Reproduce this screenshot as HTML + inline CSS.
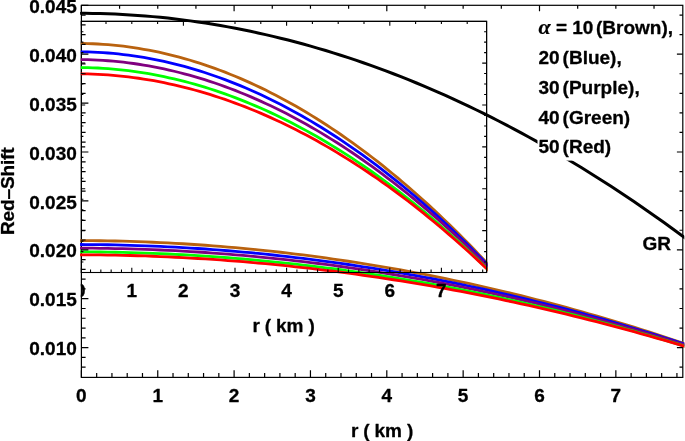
<!DOCTYPE html>
<html><head><meta charset="utf-8"><title>Red-Shift</title>
<style>html,body{margin:0;padding:0;background:#fff}svg{display:block}</style></head>
<body>
<svg width="685" height="441" viewBox="0 0 685 441" font-family="'Liberation Sans',Arial,Helvetica,sans-serif" font-weight="bold" font-size="19px" fill="#000"><style>text{stroke:#000;stroke-width:0.3px;stroke-linejoin:round}</style>
<defs><clipPath id="cm"><rect x="80.10" y="5.3" width="604.20" height="372.10"/></clipPath><clipPath id="cm2"><rect x="80.80" y="5.3" width="602.60" height="372.10"/></clipPath><clipPath id="ci"><rect x="79.60" y="21.4" width="408.00" height="251.90"/></clipPath></defs>
<rect width="685" height="441" fill="#fff"/>
<rect x="81.4" y="5.3" width="601.40" height="372.10" fill="none" stroke="#000" stroke-width="1.2"/>
<g clip-path="url(#cm2)">
<rect x="80.6" y="21.4" width="406.00" height="251.10" fill="none" stroke="#000" stroke-width="1.1"/>
<g clip-path="url(#ci)" fill="none" stroke-width="2.8" stroke-linejoin="round">
<path d="M77.62,43.42 L82.70,43.44 L87.78,43.55 L92.86,43.73 L97.94,43.98 L103.03,44.29 L108.11,44.67 L113.19,45.12 L118.27,45.64 L123.35,46.23 L128.43,46.88 L133.51,47.61 L138.59,48.40 L143.67,49.26 L148.75,50.18 L153.84,51.18 L158.92,52.24 L164.00,53.37 L169.08,54.57 L174.16,55.83 L179.24,57.16 L184.32,58.56 L189.40,60.03 L194.48,61.56 L199.56,63.16 L204.65,64.83 L209.73,66.57 L214.81,68.37 L219.89,70.24 L224.97,72.18 L230.05,74.18 L235.13,76.26 L240.21,78.39 L245.29,80.60 L250.37,82.87 L255.46,85.21 L260.54,87.62 L265.62,90.09 L270.70,92.63 L275.78,95.24 L280.86,97.92 L285.94,100.66 L291.02,103.46 L296.10,106.34 L301.18,109.28 L306.27,112.29 L311.35,115.37 L316.43,118.51 L321.51,121.72 L326.59,125.00 L331.67,128.34 L336.75,131.75 L341.83,135.23 L346.91,138.78 L351.99,142.39 L357.08,146.07 L362.16,149.81 L367.24,153.63 L372.32,157.51 L377.40,161.46 L382.48,165.47 L387.56,169.56 L392.64,173.71 L397.72,177.92 L402.80,182.21 L407.89,186.56 L412.97,190.98 L418.05,195.47 L423.13,200.03 L428.21,204.65 L433.29,209.34 L438.37,214.10 L443.45,218.93 L448.53,223.83 L453.61,228.79 L458.70,233.82 L463.78,238.92 L468.86,244.09 L473.94,249.33 L479.02,254.63 L484.10,260.01 L489.18,265.47" stroke="#b9620f"/>
<path d="M77.62,51.80 L82.70,51.82 L87.78,51.93 L92.86,52.10 L97.94,52.34 L103.03,52.64 L108.11,53.02 L113.19,53.45 L118.27,53.96 L123.35,54.52 L128.43,55.16 L133.51,55.86 L138.59,56.63 L143.67,57.46 L148.75,58.35 L153.84,59.32 L158.92,60.34 L164.00,61.44 L169.08,62.60 L174.16,63.82 L179.24,65.11 L184.32,66.46 L189.40,67.88 L194.48,69.37 L199.56,70.92 L204.65,72.53 L209.73,74.21 L214.81,75.96 L219.89,77.77 L224.97,79.64 L230.05,81.58 L235.13,83.58 L240.21,85.65 L245.29,87.78 L250.37,89.98 L255.46,92.25 L260.54,94.57 L265.62,96.97 L270.70,99.42 L275.78,101.94 L280.86,104.53 L285.94,107.18 L291.02,109.90 L296.10,112.68 L301.18,115.52 L306.27,118.43 L311.35,121.41 L316.43,124.45 L321.51,127.55 L326.59,130.72 L331.67,133.95 L336.75,137.25 L341.83,140.61 L346.91,144.04 L351.99,147.53 L357.08,151.09 L362.16,154.71 L367.24,158.40 L372.32,162.15 L377.40,165.97 L382.48,169.85 L387.56,173.80 L392.64,177.81 L397.72,181.89 L402.80,186.03 L407.89,190.24 L412.97,194.52 L418.05,198.86 L423.13,203.26 L428.21,207.73 L433.29,212.27 L438.37,216.87 L443.45,221.54 L448.53,226.27 L453.61,231.07 L458.70,235.93 L463.78,240.86 L468.86,245.86 L473.94,250.92 L479.02,256.05 L484.10,261.25 L489.18,266.53" stroke="#0000ff"/>
<path d="M77.62,59.55 L82.70,59.57 L87.78,59.67 L92.86,59.84 L97.94,60.08 L103.03,60.37 L108.11,60.73 L113.19,61.16 L118.27,61.65 L123.35,62.20 L128.43,62.82 L133.51,63.50 L138.59,64.25 L143.67,65.05 L148.75,65.93 L153.84,66.86 L158.92,67.86 L164.00,68.92 L169.08,70.05 L174.16,71.24 L179.24,72.49 L184.32,73.81 L189.40,75.19 L194.48,76.63 L199.56,78.13 L204.65,79.70 L209.73,81.33 L214.81,83.03 L219.89,84.78 L224.97,86.60 L230.05,88.49 L235.13,90.43 L240.21,92.44 L245.29,94.51 L250.37,96.65 L255.46,98.85 L260.54,101.11 L265.62,103.43 L270.70,105.81 L275.78,108.26 L280.86,110.77 L285.94,113.35 L291.02,115.98 L296.10,118.68 L301.18,121.44 L306.27,124.27 L311.35,127.16 L316.43,130.11 L321.51,133.12 L326.59,136.20 L331.67,139.33 L336.75,142.54 L341.83,145.80 L346.91,149.13 L351.99,152.52 L357.08,155.97 L362.16,159.49 L367.24,163.07 L372.32,166.71 L377.40,170.41 L382.48,174.18 L387.56,178.02 L392.64,181.91 L397.72,185.87 L402.80,189.89 L407.89,193.98 L412.97,198.12 L418.05,202.34 L423.13,206.61 L428.21,210.95 L433.29,215.35 L438.37,219.82 L443.45,224.35 L448.53,228.94 L453.61,233.60 L458.70,238.32 L463.78,243.11 L468.86,247.96 L473.94,252.87 L479.02,257.85 L484.10,262.89 L489.18,268.02" stroke="#800080"/>
<path d="M77.62,67.51 L82.70,67.53 L87.78,67.63 L92.86,67.80 L97.94,68.02 L103.03,68.31 L108.11,68.67 L113.19,69.08 L118.27,69.56 L123.35,70.10 L128.43,70.71 L133.51,71.37 L138.59,72.10 L143.67,72.89 L148.75,73.74 L153.84,74.65 L158.92,75.63 L164.00,76.66 L169.08,77.76 L174.16,78.92 L179.24,80.14 L184.32,81.43 L189.40,82.77 L194.48,84.18 L199.56,85.65 L204.65,87.18 L209.73,88.77 L214.81,90.42 L219.89,92.14 L224.97,93.91 L230.05,95.75 L235.13,97.65 L240.21,99.60 L245.29,101.62 L250.37,103.71 L255.46,105.85 L260.54,108.05 L265.62,110.32 L270.70,112.64 L275.78,115.03 L280.86,117.48 L285.94,119.99 L291.02,122.56 L296.10,125.19 L301.18,127.89 L306.27,130.64 L311.35,133.45 L316.43,136.33 L321.51,139.27 L326.59,142.27 L331.67,145.33 L336.75,148.45 L341.83,151.63 L346.91,154.88 L351.99,158.18 L357.08,161.55 L362.16,164.98 L367.24,168.47 L372.32,172.02 L377.40,175.63 L382.48,179.30 L387.56,183.04 L392.64,186.84 L397.72,190.69 L402.80,194.62 L407.89,198.60 L412.97,202.64 L418.05,206.75 L423.13,210.92 L428.21,215.15 L433.29,219.44 L438.37,223.79 L443.45,228.21 L448.53,232.69 L453.61,237.23 L458.70,241.83 L463.78,246.50 L468.86,251.22 L473.94,256.02 L479.02,260.87 L484.10,265.78 L489.18,270.78" stroke="#00ff00"/>
<path d="M77.62,73.79 L82.70,73.81 L87.78,73.91 L92.86,74.07 L97.94,74.29 L103.03,74.58 L108.11,74.92 L113.19,75.33 L118.27,75.79 L123.35,76.32 L128.43,76.90 L133.51,77.55 L138.59,78.26 L143.67,79.02 L148.75,79.85 L153.84,80.74 L158.92,81.69 L164.00,82.69 L169.08,83.76 L174.16,84.89 L179.24,86.07 L184.32,87.32 L189.40,88.63 L194.48,89.99 L199.56,91.42 L204.65,92.90 L209.73,94.45 L214.81,96.05 L219.89,97.71 L224.97,99.44 L230.05,101.22 L235.13,103.06 L240.21,104.96 L245.29,106.92 L250.37,108.94 L255.46,111.02 L260.54,113.16 L265.62,115.36 L270.70,117.62 L275.78,119.93 L280.86,122.31 L285.94,124.74 L291.02,127.24 L296.10,129.79 L301.18,132.40 L306.27,135.08 L311.35,137.81 L316.43,140.60 L321.51,143.45 L326.59,146.36 L331.67,149.33 L336.75,152.35 L341.83,155.44 L346.91,158.59 L351.99,161.79 L357.08,165.06 L362.16,168.39 L367.24,171.77 L372.32,175.22 L377.40,178.72 L382.48,182.28 L387.56,185.91 L392.64,189.59 L397.72,193.33 L402.80,197.14 L407.89,201.00 L412.97,204.92 L418.05,208.91 L423.13,212.95 L428.21,217.05 L433.29,221.22 L438.37,225.44 L443.45,229.72 L448.53,234.07 L453.61,238.47 L458.70,242.94 L463.78,247.46 L468.86,252.05 L473.94,256.70 L479.02,261.40 L484.10,266.17 L489.18,271.02" stroke="#ff0000"/>
</g>
</g>
<g clip-path="url(#cm)" fill="none" stroke-width="2.8" stroke-linejoin="round">
<path d="M77.58,240.61 L85.10,240.62 L92.62,240.67 L100.14,240.75 L107.65,240.87 L115.17,241.02 L122.69,241.19 L130.21,241.40 L137.73,241.65 L145.25,241.92 L152.76,242.23 L160.28,242.56 L167.80,242.93 L175.32,243.34 L182.84,243.77 L190.35,244.23 L197.87,244.73 L205.39,245.26 L212.91,245.81 L220.43,246.40 L227.94,247.03 L235.46,247.68 L242.98,248.37 L250.50,249.08 L258.02,249.83 L265.54,250.61 L273.05,251.42 L280.57,252.26 L288.09,253.14 L295.61,254.04 L303.13,254.98 L310.64,255.94 L318.16,256.94 L325.68,257.97 L333.20,259.03 L340.72,260.13 L348.23,261.25 L355.75,262.41 L363.27,263.59 L370.79,264.81 L378.31,266.06 L385.83,267.34 L393.34,268.65 L400.86,269.99 L408.38,271.37 L415.90,272.77 L423.42,274.21 L430.93,275.68 L438.45,277.18 L445.97,278.71 L453.49,280.27 L461.01,281.86 L468.52,283.49 L476.04,285.14 L483.56,286.83 L491.08,288.55 L498.60,290.30 L506.12,292.08 L513.63,293.89 L521.15,295.73 L528.67,297.61 L536.19,299.52 L543.71,301.45 L551.22,303.42 L558.74,305.43 L566.26,307.46 L573.78,309.52 L581.30,311.62 L588.81,313.75 L596.33,315.91 L603.85,318.10 L611.37,320.32 L618.89,322.57 L626.41,324.86 L633.92,327.18 L641.44,329.53 L648.96,331.91 L656.48,334.32 L664.00,336.77 L671.51,339.25 L679.03,341.76 L686.55,344.31" stroke="#b9620f"/>
<path d="M77.58,244.52 L85.10,244.53 L92.62,244.58 L100.14,244.66 L107.65,244.77 L115.17,244.92 L122.69,245.09 L130.21,245.29 L137.73,245.53 L145.25,245.80 L152.76,246.09 L160.28,246.42 L167.80,246.78 L175.32,247.16 L182.84,247.58 L190.35,248.03 L197.87,248.51 L205.39,249.02 L212.91,249.56 L220.43,250.14 L227.94,250.74 L235.46,251.37 L242.98,252.03 L250.50,252.73 L258.02,253.45 L265.54,254.20 L273.05,254.99 L280.57,255.80 L288.09,256.65 L295.61,257.52 L303.13,258.43 L310.64,259.37 L318.16,260.33 L325.68,261.33 L333.20,262.35 L340.72,263.41 L348.23,264.50 L355.75,265.62 L363.27,266.76 L370.79,267.94 L378.31,269.15 L385.83,270.39 L393.34,271.65 L400.86,272.95 L408.38,274.28 L415.90,275.64 L423.42,277.03 L430.93,278.45 L438.45,279.90 L445.97,281.38 L453.49,282.89 L461.01,284.43 L468.52,286.00 L476.04,287.60 L483.56,289.23 L491.08,290.89 L498.60,292.58 L506.12,294.31 L513.63,296.06 L521.15,297.84 L528.67,299.65 L536.19,301.50 L543.71,303.37 L551.22,305.28 L558.74,307.21 L566.26,309.18 L573.78,311.17 L581.30,313.20 L588.81,315.26 L596.33,317.34 L603.85,319.46 L611.37,321.61 L618.89,323.79 L626.41,326.00 L633.92,328.24 L641.44,330.51 L648.96,332.82 L656.48,335.15 L664.00,337.51 L671.51,339.91 L679.03,342.34 L686.55,344.80" stroke="#0000ff"/>
<path d="M77.58,248.14 L85.10,248.15 L92.62,248.20 L100.14,248.28 L107.65,248.39 L115.17,248.53 L122.69,248.70 L130.21,248.89 L137.73,249.12 L145.25,249.38 L152.76,249.67 L160.28,249.99 L167.80,250.34 L175.32,250.71 L182.84,251.12 L190.35,251.56 L197.87,252.02 L205.39,252.52 L212.91,253.05 L220.43,253.60 L227.94,254.19 L235.46,254.80 L242.98,255.44 L250.50,256.12 L258.02,256.82 L265.54,257.55 L273.05,258.31 L280.57,259.11 L288.09,259.93 L295.61,260.78 L303.13,261.66 L310.64,262.56 L318.16,263.50 L325.68,264.47 L333.20,265.47 L340.72,266.49 L348.23,267.55 L355.75,268.63 L363.27,269.75 L370.79,270.89 L378.31,272.06 L385.83,273.27 L393.34,274.50 L400.86,275.76 L408.38,277.05 L415.90,278.37 L423.42,279.71 L430.93,281.09 L438.45,282.50 L445.97,283.94 L453.49,285.40 L461.01,286.90 L468.52,288.42 L476.04,289.98 L483.56,291.56 L491.08,293.17 L498.60,294.81 L506.12,296.48 L513.63,298.19 L521.15,299.92 L528.67,301.68 L536.19,303.47 L543.71,305.28 L551.22,307.13 L558.74,309.01 L566.26,310.92 L573.78,312.86 L581.30,314.82 L588.81,316.82 L596.33,318.85 L603.85,320.90 L611.37,322.99 L618.89,325.10 L626.41,327.25 L633.92,329.42 L641.44,331.63 L648.96,333.87 L656.48,336.13 L664.00,338.42 L671.51,340.75 L679.03,343.10 L686.55,345.50" stroke="#800080"/>
<path d="M77.58,251.86 L85.10,251.87 L92.62,251.92 L100.14,251.99 L107.65,252.10 L115.17,252.24 L122.69,252.40 L130.21,252.59 L137.73,252.82 L145.25,253.07 L152.76,253.35 L160.28,253.66 L167.80,254.00 L175.32,254.37 L182.84,254.77 L190.35,255.19 L197.87,255.65 L205.39,256.13 L212.91,256.65 L220.43,257.19 L227.94,257.76 L235.46,258.36 L242.98,258.99 L250.50,259.64 L258.02,260.33 L265.54,261.04 L273.05,261.79 L280.57,262.56 L288.09,263.36 L295.61,264.19 L303.13,265.05 L310.64,265.93 L318.16,266.85 L325.68,267.79 L333.20,268.76 L340.72,269.76 L348.23,270.79 L355.75,271.85 L363.27,272.94 L370.79,274.05 L378.31,275.20 L385.83,276.37 L393.34,277.57 L400.86,278.80 L408.38,280.05 L415.90,281.34 L423.42,282.66 L430.93,284.00 L438.45,285.37 L445.97,286.77 L453.49,288.20 L461.01,289.66 L468.52,291.14 L476.04,292.66 L483.56,294.20 L491.08,295.78 L498.60,297.38 L506.12,299.01 L513.63,300.66 L521.15,302.35 L528.67,304.07 L536.19,305.81 L543.71,307.58 L551.22,309.39 L558.74,311.22 L566.26,313.08 L573.78,314.97 L581.30,316.88 L588.81,318.83 L596.33,320.81 L603.85,322.81 L611.37,324.84 L618.89,326.91 L626.41,329.00 L633.92,331.12 L641.44,333.27 L648.96,335.45 L656.48,337.65 L664.00,339.89 L671.51,342.16 L679.03,344.45 L686.55,346.79" stroke="#00ff00"/>
<path d="M77.58,254.79 L85.10,254.80 L92.62,254.85 L100.14,254.92 L107.65,255.03 L115.17,255.16 L122.69,255.32 L130.21,255.51 L137.73,255.73 L145.25,255.97 L152.76,256.25 L160.28,256.55 L167.80,256.88 L175.32,257.24 L182.84,257.62 L190.35,258.04 L197.87,258.48 L205.39,258.95 L212.91,259.45 L220.43,259.97 L227.94,260.53 L235.46,261.11 L242.98,261.72 L250.50,262.36 L258.02,263.02 L265.54,263.72 L273.05,264.44 L280.57,265.19 L288.09,265.96 L295.61,266.77 L303.13,267.60 L310.64,268.46 L318.16,269.35 L325.68,270.27 L333.20,271.21 L340.72,272.18 L348.23,273.18 L355.75,274.20 L363.27,275.26 L370.79,276.34 L378.31,277.45 L385.83,278.59 L393.34,279.75 L400.86,280.94 L408.38,282.16 L415.90,283.41 L423.42,284.69 L430.93,285.99 L438.45,287.32 L445.97,288.68 L453.49,290.07 L461.01,291.48 L468.52,292.92 L476.04,294.39 L483.56,295.89 L491.08,297.42 L498.60,298.97 L506.12,300.55 L513.63,302.16 L521.15,303.79 L528.67,305.46 L536.19,307.15 L543.71,308.87 L551.22,310.62 L558.74,312.40 L566.26,314.20 L573.78,316.03 L581.30,317.89 L588.81,319.78 L596.33,321.70 L603.85,323.64 L611.37,325.61 L618.89,327.61 L626.41,329.64 L633.92,331.70 L641.44,333.78 L648.96,335.90 L656.48,338.04 L664.00,340.21 L671.51,342.41 L679.03,344.64 L686.55,346.90" stroke="#ff0000"/>
<path d="M77.58,13.31 L85.10,13.32 L92.62,13.41 L100.14,13.56 L107.65,13.79 L115.17,14.09 L122.69,14.46 L130.21,14.89 L137.73,15.40 L145.25,15.97 L152.76,16.62 L160.28,17.33 L167.80,18.11 L175.32,18.97 L182.84,19.89 L190.35,20.88 L197.87,21.94 L205.39,23.07 L212.91,24.27 L220.43,25.54 L227.94,26.88 L235.46,28.28 L242.98,29.76 L250.50,31.30 L258.02,32.92 L265.54,34.60 L273.05,36.35 L280.57,38.18 L288.09,40.07 L295.61,42.02 L303.13,44.05 L310.64,46.15 L318.16,48.32 L325.68,50.55 L333.20,52.86 L340.72,55.23 L348.23,57.67 L355.75,60.18 L363.27,62.76 L370.79,65.41 L378.31,68.13 L385.83,70.92 L393.34,73.77 L400.86,76.70 L408.38,79.69 L415.90,82.75 L423.42,85.88 L430.93,89.08 L438.45,92.35 L445.97,95.69 L453.49,99.10 L461.01,102.58 L468.52,106.12 L476.04,109.74 L483.56,113.42 L491.08,117.17 L498.60,120.99 L506.12,124.88 L513.63,128.84 L521.15,132.87 L528.67,136.97 L536.19,141.14 L543.71,145.37 L551.22,149.68 L558.74,154.05 L566.26,158.49 L573.78,163.01 L581.30,167.59 L588.81,172.24 L596.33,176.96 L603.85,181.75 L611.37,186.61 L618.89,191.54 L626.41,196.54 L633.92,201.61 L641.44,206.74 L648.96,211.95 L656.48,217.23 L664.00,222.57 L671.51,227.99 L679.03,233.47 L686.55,239.04" stroke="#000" stroke-width="3.0"/>
</g>
<g clip-path="url(#cm2)">
<path d="M80.20,272.5v-4.7M90.52,272.5v-3.0M100.84,272.5v-3.0M111.16,272.5v-3.0M121.48,272.5v-3.0M131.80,272.5v-4.7M142.12,272.5v-3.0M152.44,272.5v-3.0M162.76,272.5v-3.0M173.08,272.5v-3.0M183.40,272.5v-4.7M193.72,272.5v-3.0M204.04,272.5v-3.0M214.36,272.5v-3.0M224.68,272.5v-3.0M235.00,272.5v-4.7M245.32,272.5v-3.0M255.64,272.5v-3.0M265.96,272.5v-3.0M276.28,272.5v-3.0M286.60,272.5v-4.7M296.92,272.5v-3.0M307.24,272.5v-3.0M317.56,272.5v-3.0M327.88,272.5v-3.0M338.20,272.5v-4.7M348.52,272.5v-3.0M358.84,272.5v-3.0M369.16,272.5v-3.0M379.48,272.5v-3.0M389.80,272.5v-4.7M400.12,272.5v-3.0M410.44,272.5v-3.0M420.76,272.5v-3.0M431.08,272.5v-3.0M441.40,272.5v-4.7M451.72,272.5v-3.0M462.04,272.5v-3.0M472.36,272.5v-3.0M482.68,272.5v-3.0M80.20,21.4v4.4M106.00,21.4v2.6M131.80,21.4v2.6M157.60,21.4v2.6M183.40,21.4v4.4M209.20,21.4v2.6M235.00,21.4v2.6M260.80,21.4v2.6M286.60,21.4v4.4M312.40,21.4v2.6M338.20,21.4v2.6M364.00,21.4v2.6M389.80,21.4v4.4M415.60,21.4v2.6M441.40,21.4v2.6M467.20,21.4v2.6M80.6,272.52h4.6M486.6,272.52h-4.4M80.6,262.05h2.8M486.6,262.05h-2.5M80.6,251.58h2.8M486.6,251.58h-2.5M80.6,241.11h2.8M486.6,241.11h-2.5M80.6,230.64h4.6M486.6,230.64h-4.4M80.6,220.16h2.8M486.6,220.16h-2.5M80.6,209.69h2.8M486.6,209.69h-2.5M80.6,199.22h2.8M486.6,199.22h-2.5M80.6,188.75h4.6M486.6,188.75h-4.4M80.6,178.28h2.8M486.6,178.28h-2.5M80.6,167.81h2.8M486.6,167.81h-2.5M80.6,157.34h2.8M486.6,157.34h-2.5M80.6,146.87h4.6M486.6,146.87h-4.4M80.6,136.40h2.8M486.6,136.40h-2.5M80.6,125.93h2.8M486.6,125.93h-2.5M80.6,115.45h2.8M486.6,115.45h-2.5M80.6,104.98h4.6M486.6,104.98h-4.4M80.6,94.51h2.8M486.6,94.51h-2.5M80.6,84.04h2.8M486.6,84.04h-2.5M80.6,73.57h2.8M486.6,73.57h-2.5M80.6,63.10h4.6M486.6,63.10h-4.4M80.6,52.63h2.8M486.6,52.63h-2.5M80.6,42.16h2.8M486.6,42.16h-2.5M80.6,31.69h2.8M486.6,31.69h-2.5M80.6,21.22h4.6M486.6,21.22h-4.4M80.6,21.4H486.6V272.5H80.6" fill="none" stroke="#000" stroke-width="1.1"/>
<text x="80.20" y="296.5" text-anchor="middle">0</text>
<text x="131.80" y="296.5" text-anchor="middle">1</text>
<text x="183.40" y="296.5" text-anchor="middle">2</text>
<text x="235.00" y="296.5" text-anchor="middle">3</text>
<text x="286.60" y="296.5" text-anchor="middle">4</text>
<text x="338.20" y="296.5" text-anchor="middle">5</text>
<text x="389.80" y="296.5" text-anchor="middle">6</text>
<text x="441.40" y="296.5" text-anchor="middle">7</text>
<text x="283.6" y="331.7" text-anchor="middle" textLength="62.3" lengthAdjust="spacing">r ( km )</text>
</g>
<rect x="537.5" y="18" width="137" height="142.6" fill="#fff"/>
<g transform="translate(538.4,0) scale(1,1)" word-spacing="-2.2px">
<text y="33.8" x="0" font-style="italic" font-family="'Liberation Serif',serif" font-size="22px" style="stroke-width:0.2px">α</text>
<text y="33.8" x="17.60">=</text>
<text y="33.8" x="33.80">10</text>
<text y="33.8" x="57.60">(Brown),</text>
<text x="0" y="63.7">20 (Blue),</text>
<text x="0" y="93.6">30 (Purple),</text>
<text x="0" y="123.5">40 (Green)</text>
<text x="0" y="153.3">50 (Red)</text>
</g>
<text x="642.6" y="250.3">GR</text>
<path d="M81.40,377.4v-7.2M96.67,377.4v-4.3M111.94,377.4v-4.3M127.21,377.4v-4.3M142.48,377.4v-4.3M157.75,377.4v-7.2M173.02,377.4v-4.3M188.29,377.4v-4.3M203.56,377.4v-4.3M218.83,377.4v-4.3M234.10,377.4v-7.2M249.37,377.4v-4.3M264.64,377.4v-4.3M279.91,377.4v-4.3M295.18,377.4v-4.3M310.45,377.4v-7.2M325.72,377.4v-4.3M340.99,377.4v-4.3M356.26,377.4v-4.3M371.53,377.4v-4.3M386.80,377.4v-7.2M402.07,377.4v-4.3M417.34,377.4v-4.3M432.61,377.4v-4.3M447.88,377.4v-4.3M463.15,377.4v-7.2M478.42,377.4v-4.3M493.69,377.4v-4.3M508.96,377.4v-4.3M524.23,377.4v-4.3M539.50,377.4v-7.2M554.77,377.4v-4.3M570.04,377.4v-4.3M585.31,377.4v-4.3M600.58,377.4v-4.3M615.85,377.4v-7.2M631.12,377.4v-4.3M646.39,377.4v-4.3M661.66,377.4v-4.3M676.93,377.4v-4.3M81.40,5.3v5.9M119.58,5.3v3.5M157.75,5.3v3.5M195.93,5.3v3.5M234.10,5.3v5.9M272.27,5.3v3.5M310.45,5.3v3.5M348.62,5.3v3.5M386.80,5.3v5.9M424.98,5.3v3.5M463.15,5.3v3.5M501.32,5.3v3.5M539.50,5.3v5.9M577.67,5.3v3.5M615.85,5.3v3.5M654.02,5.3v3.5M81.4,367.16h4.2M81.4,357.38h4.2M81.4,347.60h7.0M81.4,337.82h4.2M81.4,328.04h4.2M81.4,318.26h4.2M81.4,308.48h4.2M81.4,298.70h7.0M81.4,288.92h4.2M81.4,279.14h4.2M81.4,269.36h4.2M81.4,259.58h4.2M81.4,249.80h7.0M81.4,240.02h4.2M81.4,230.24h4.2M81.4,220.46h4.2M81.4,210.68h4.2M81.4,200.90h7.0M81.4,191.12h4.2M81.4,181.34h4.2M81.4,171.56h4.2M81.4,161.78h4.2M81.4,152.00h7.0M81.4,142.22h4.2M81.4,132.44h4.2M81.4,122.66h4.2M81.4,112.88h4.2M81.4,103.10h7.0M81.4,93.32h4.2M81.4,83.54h4.2M81.4,73.76h4.2M81.4,63.98h4.2M81.4,54.20h7.0M81.4,44.42h4.2M81.4,34.64h4.2M81.4,24.86h4.2M81.4,15.08h4.2M81.4,5.30h7.0M682.8,367.16h-3.3M682.8,347.60h-5.9M682.8,328.04h-3.3M682.8,308.48h-3.3M682.8,288.92h-3.3M682.8,269.36h-3.3M682.8,249.80h-5.9M682.8,230.24h-3.3M682.8,210.68h-3.3M682.8,191.12h-3.3M682.8,171.56h-3.3M682.8,152.00h-5.9M682.8,132.44h-3.3M682.8,112.88h-3.3M682.8,93.32h-3.3M682.8,73.76h-3.3M682.8,54.20h-5.9M682.8,34.64h-3.3M682.8,15.08h-3.3" fill="none" stroke="#000" stroke-width="1.2"/>
<text x="81.40" y="401.8" text-anchor="middle">0</text>
<text x="157.75" y="401.8" text-anchor="middle">1</text>
<text x="234.10" y="401.8" text-anchor="middle">2</text>
<text x="310.45" y="401.8" text-anchor="middle">3</text>
<text x="386.80" y="401.8" text-anchor="middle">4</text>
<text x="463.15" y="401.8" text-anchor="middle">5</text>
<text x="539.50" y="401.8" text-anchor="middle">6</text>
<text x="615.85" y="401.8" text-anchor="middle">7</text>
<text x="76.8" y="355.20" text-anchor="end">0.010</text>
<text x="76.8" y="306.30" text-anchor="end">0.015</text>
<text x="76.8" y="257.40" text-anchor="end">0.020</text>
<text x="76.8" y="208.50" text-anchor="end">0.025</text>
<text x="76.8" y="159.60" text-anchor="end">0.030</text>
<text x="76.8" y="110.70" text-anchor="end">0.035</text>
<text x="76.8" y="61.80" text-anchor="end">0.040</text>
<text x="76.8" y="12.90" text-anchor="end">0.045</text>
<text x="382.1" y="436.9" text-anchor="middle" textLength="62.3" lengthAdjust="spacing">r ( km )</text>
<text transform="translate(14.4,191.2) rotate(-90)" text-anchor="middle" textLength="87.6" lengthAdjust="spacing">Red–Shift</text>
</svg>
</body></html>
